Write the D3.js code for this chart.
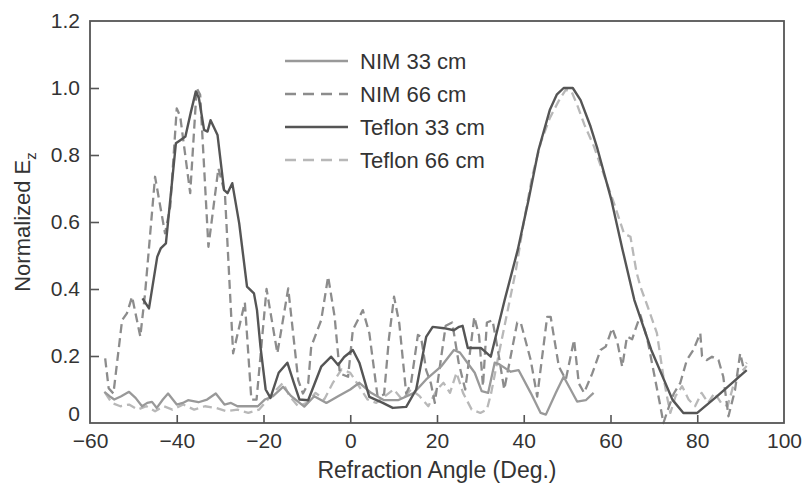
<!DOCTYPE html>
<html>
<head>
<meta charset="utf-8">
<script src="https://cdn.jsdelivr.net/npm/d3@7"></script>
<style>
  html, body { margin: 0; padding: 0; background: #fff; }
  svg { display: block; }
  text { font-family: "Liberation Sans", Arial, Helvetica, sans-serif; fill: #333; }
</style>
</head>
<body>
<svg id="chart" width="803" height="487"></svg>
<script>
// ---------------- data (angle in degrees, normalized Ez) ----------------
const xTicks = [-60, -40, -20, 0, 20, 40, 60, 80, 100];
const yTicks = [0, 0.2, 0.4, 0.6, 0.8, 1.0, 1.2];
const yTickLabels = ["0", "0.2", "0.4", "0.6", "0.8", "1.0", "1.2"];
const seriesNames = ["NIM 33 cm", "NIM 66 cm", "Teflon 33 cm", "Teflon 66 cm"];

const nim33 = [[-56.7,0.093],[-55.5,0.08],[-54.4,0.07],[-52.8,0.08],[-51,0.093],[-49.5,0.075],[-48,0.05],[-46.8,0.06],[-45.7,0.063],[-44.6,0.045],[-43.2,0.07],[-42,0.088],[-40,0.055],[-38.6,0.06],[-37.4,0.068],[-35,0.062],[-33,0.07],[-31,0.088],[-29,0.055],[-27.5,0.06],[-26,0.05],[-23.6,0.05],[-21.3,0.05],[-19.7,0.07],[-17.8,0.08],[-15.5,0.108],[-13.6,0.08],[-10.6,0.049],[-8.3,0.08],[-5.5,0.06],[-2.8,0.08],[0,0.1],[2.1,0.12],[4.8,0.09],[7.8,0.068],[11,0.068],[14.7,0.09],[17.5,0.13],[20.9,0.168],[23.9,0.218],[25.3,0.21],[27,0.18],[28.7,0.15],[30.3,0.095],[31.8,0.09],[33.3,0.18],[34.4,0.175],[37,0.153],[38.8,0.158],[41.6,0.09],[43.9,0.03],[45.1,0.025],[47.4,0.09],[49.2,0.138],[50.8,0.1],[52.3,0.064],[54.3,0.068],[56.1,0.09]];

const nim66 = [[-56.5,0.193],[-55.7,0.104],[-54.6,0.088],[-52.6,0.307],[-51.5,0.327],[-50.3,0.377],[-48.4,0.258],[-47.3,0.387],[-45,0.735],[-42.7,0.566],[-41.5,0.646],[-40,0.939],[-39.2,0.915],[-36.9,0.686],[-35.4,1.0],[-34.6,0.98],[-32.7,0.526],[-30.4,0.76],[-28.9,0.686],[-27,0.208],[-24.3,0.36],[-22.8,0.07],[-21.6,0.07],[-19.3,0.4],[-16.8,0.208],[-14.3,0.402],[-12,0.128],[-10.9,0.088],[-9.7,0.118],[-9,0.228],[-6.7,0.307],[-5.1,0.437],[-3.6,0.317],[-2.4,0.148],[-0.5,0.138],[0.6,0.278],[2.9,0.337],[4.4,0.268],[6.3,0.079],[7.8,0.085],[8.9,0.25],[10.1,0.377],[11.3,0.298],[12.9,0.088],[14,0.118],[15.6,0.263],[16.3,0.258],[17.5,0.158],[18.6,0.118],[19.5,0.06],[21,0.2],[22,0.29],[23.5,0.3],[25,0.18],[26.5,0.1],[27.5,0.2],[28.6,0.317],[29.7,0.26],[30.6,0.11],[31.5,0.3],[32.8,0.307],[34,0.22],[35.5,0.1],[37,0.2],[38.5,0.3],[39.3,0.3],[41.6,0.188],[43.1,0.079],[45.4,0.317],[46.2,0.317],[48.1,0.168],[49.7,0.13],[51.6,0.248],[52.7,0.118],[53.9,0.09],[55.8,0.148],[57.7,0.218],[58.9,0.228],[60.4,0.283],[61.6,0.24],[62.7,0.168],[63.8,0.258],[65,0.25],[65.7,0.278],[66.9,0.322],[68.5,0.25],[70,0.15],[71.5,0.05],[72.2,0.0],[73.5,0.05],[74.6,0.088],[76.1,0.12],[77.6,0.188],[79.1,0.218],[80.7,0.268],[81.1,0.2],[82.2,0.188],[83.4,0.198],[84.9,0.188],[86,0.138],[87.2,0.02],[88.7,0.098],[89.9,0.208],[90.6,0.168],[91.4,0.18]];

const teflon33 = [[-47.9,0.372],[-46.4,0.342],[-44.5,0.496],[-43.7,0.521],[-42.5,0.536],[-40.2,0.835],[-39.1,0.845],[-38,0.855],[-36.8,0.925],[-35.6,0.99],[-34.9,0.97],[-33.7,0.875],[-32.9,0.87],[-32.2,0.904],[-30.6,0.86],[-29.1,0.696],[-28.3,0.686],[-27.2,0.716],[-25.6,0.596],[-23.8,0.407],[-22.2,0.387],[-21.5,0.337],[-20.7,0.228],[-19.5,0.1],[-18.4,0.075],[-16.5,0.15],[-14.5,0.18],[-13,0.12],[-11.7,0.07],[-9.7,0.068],[-6.7,0.168],[-4.4,0.198],[-2.8,0.173],[-1.4,0.197],[0.6,0.218],[2.1,0.18],[4.4,0.078],[7.5,0.06],[9.8,0.045],[12.9,0.048],[15.2,0.1],[17.5,0.257],[19,0.287],[21.6,0.283],[23.9,0.277],[25.1,0.287],[25.9,0.29],[27.1,0.224],[30.1,0.224],[32.4,0.198],[35.6,0.367],[38.6,0.516],[41.1,0.666],[43.4,0.815],[46,0.934],[47.6,0.98],[49.2,1.0],[51.3,1.0],[53.1,0.964],[55.4,0.885],[57,0.818],[60.2,0.666],[62.8,0.516],[65.5,0.367],[69.4,0.218],[74.3,0.069],[76.8,0.03],[80,0.03],[84.6,0.08],[91.4,0.158]];

const teflon66 = [[-56.5,0.09],[-55,0.06],[-53,0.05],[-51,0.055],[-49,0.04],[-47,0.05],[-45,0.035],[-43,0.05],[-41,0.04],[-38.5,0.055],[-36,0.04],[-33.5,0.05],[-31,0.045],[-28.5,0.035],[-26,0.04],[-23.5,0.03],[-21,0.04],[-19,0.07],[-17,0.1],[-15.5,0.12],[-14,0.08],[-12,0.05],[-10,0.06],[-8,0.09],[-6,0.07],[-4,0.12],[-2,0.16],[0,0.15],[2,0.11],[4,0.07],[6,0.06],[8,0.08],[10,0.1],[12,0.07],[14,0.1],[16,0.08],[18,0.05],[20,0.1],[21.5,0.12],[23,0.09],[24.5,0.15],[26,0.09],[28,0.04],[30,0.03],[31.5,0.04],[32.5,0.09],[34,0.19],[36,0.317],[38.2,0.457],[40,0.6],[42,0.74],[44,0.84],[46,0.91],[48,0.96],[49.7,0.995],[51,0.99],[52.3,0.95],[54,0.89],[56.2,0.825],[58.5,0.74],[60.8,0.656],[63.1,0.566],[64.6,0.556],[66,0.45],[66.9,0.407],[68.5,0.35],[70.7,0.268],[72.2,0.138],[73,0.08],[73.8,0.03],[75,0.08],[76.5,0.11],[78,0.07],[79.5,0.05],[81,0.09],[82.5,0.06],[84,0.09],[85.5,0.06],[87,0.05],[88.5,0.12],[90,0.15],[91.4,0.17]];

// ---------------- layout ----------------
const svg = d3.select("#chart");
const W = 803, H = 487;
const m = { left: 90, right: 19, top: 21, bottom: 64 };
const x = d3.scaleLinear().domain([-60, 100]).range([m.left, W - m.right]);
const y = d3.scaleLinear().domain([0, 1.2]).range([H - m.bottom, m.top]);

svg.append("rect").attr("width", W).attr("height", H).attr("fill", "#fff");

const styles = [
  { name: seriesNames[0], data: nim33,    color: "#999999", dash: null,  width: 2.3 },
  { name: seriesNames[1], data: nim66,    color: "#8c8c8c", dash: "9,5", width: 2.3 },
  { name: seriesNames[2], data: teflon33, color: "#555555", dash: null,  width: 2.4 },
  { name: seriesNames[3], data: teflon66, color: "#b8b8b8", dash: "9,5", width: 2.3 }
];

const line = d3.line().x(d => x(d[0])).y(d => y(d[1]));

// draw order: light dashed under, then others
const order = [3, 1, 0, 2];
const plot = svg.append("g");
order.forEach(i => {
  const s = styles[i];
  plot.append("path")
    .datum(s.data)
    .attr("d", line)
    .attr("fill", "none")
    .attr("stroke", s.color)
    .attr("stroke-width", s.width)
    .attr("stroke-linejoin", "round")
    .attr("stroke-dasharray", s.dash);
});

// ---------------- axes ----------------
const axisColor = "#555";
const xAxis = svg.append("g").attr("transform", `translate(0,${y(0)})`)
  .call(d3.axisBottom(x).tickValues(xTicks).tickSizeInner(-8).tickSizeOuter(0)
        .tickFormat(d => d < 0 ? "\u2212" + Math.abs(d) : String(d)).tickPadding(10));
const yAxis = svg.append("g").attr("transform", `translate(${m.left},0)`)
  .call(d3.axisLeft(y).tickValues(yTicks).tickSizeInner(-9).tickSizeOuter(0)
        .tickFormat((d, i) => yTickLabels[i]).tickPadding(10));
[xAxis, yAxis].forEach(g => {
  g.selectAll(".domain").remove();
  g.selectAll(".tick line").attr("stroke", axisColor).attr("stroke-width", 1.6);
  g.selectAll(".tick text").style("font-size", "21px").attr("fill", "#333")
    .style("font-family", "'Liberation Sans', Arial, sans-serif");
});
// hide ticks at the corners that overlap the frame
xAxis.selectAll(".tick").filter(d => d === -60 || d === 100).select("line").remove();
yAxis.selectAll(".tick").filter(d => d === 0 || d === 1.2).select("line").remove();
yAxis.selectAll(".tick").filter(d => d === 0).select("text").attr("dy", "-0.1em");

// frame
svg.append("rect")
  .attr("x", x(-60)).attr("y", y(1.2))
  .attr("width", x(100) - x(-60)).attr("height", y(0) - y(1.2))
  .attr("fill", "none").attr("stroke", axisColor).attr("stroke-width", 1.8);

// axis titles
svg.append("text")
  .attr("x", (x(-60) + x(100)) / 2).attr("y", 478)
  .attr("text-anchor", "middle").style("font-size", "23px")
  .text("Refraction Angle (Deg.)");

const yt = svg.append("text")
  .attr("transform", `translate(30,${(y(0) + y(1.2)) / 2}) rotate(-90)`)
  .attr("text-anchor", "middle").style("font-size", "22px");
yt.append("tspan").text("Normalized E");
yt.append("tspan").attr("dy", "6").style("font-size", "15px").text("z");

// ---------------- legend ----------------
const leg = svg.append("g").attr("transform", "translate(285,61)");
styles.forEach((s, i) => {
  const g = leg.append("g").attr("transform", `translate(0,${i * 33})`);
  g.append("line").attr("x1", 0).attr("x2", 63).attr("y1", 0).attr("y2", 0)
    .attr("stroke", s.color).attr("stroke-width", s.width)
    .attr("stroke-dasharray", s.dash ? "11,7" : null);
  g.append("text").attr("x", 75).attr("y", 0).attr("dy", "0.35em")
    .style("font-size", "22px").text(s.name);
});
</script>
</body>
</html>
